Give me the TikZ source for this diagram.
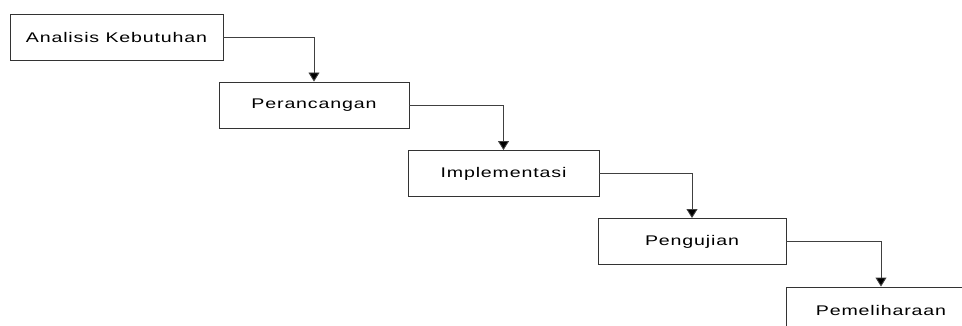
\documentclass[tikz,border=0pt]{standalone}
\usepackage{fontspec}
\setmainfont[FakeStretch=1.4,LetterSpace=6]{Liberation Sans}
\usetikzlibrary{arrows.meta}
\begin{document}
\begin{tikzpicture}[x=1pt,y=1pt,
  stage/.style={draw=black!80,line width=0.9pt,minimum height=46pt,inner sep=0pt,font=\fontsize{14}{16}\selectfont},
  flow/.style={draw=black!75,line width=0.9pt,-{Triangle[width=11pt,length=9pt,fill=black]}}]
\clip (0,0) rectangle (962,-326);
\fill[white] (0,0) rectangle (962,-326);
\node[stage,minimum width=213pt] (b1) at (116.5,-37) {Analisis Kebutuhan};
\node[stage,minimum width=190pt] (b2) at (314,-105) {Perancangan};
\node[stage,minimum width=191pt] (b3) at (503.5,-173.5) {Implementasi};
\node[stage,minimum width=188pt] (b4) at (692,-241.5) {Pengujian};
\node[stage,minimum width=190pt] (b5) at (881,-310) {Pemeliharaan};
\draw[flow] (b1.east) -| (b2.north);
\draw[flow] (b2.east) -| (b3.north);
\draw[flow] (b3.east) -| (b4.north);
\draw[flow] (b4.east) -| (b5.north);
\end{tikzpicture}
\end{document}
